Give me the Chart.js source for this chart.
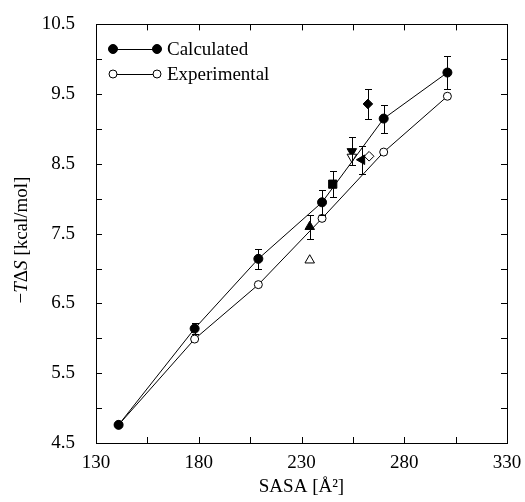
<!DOCTYPE html>
<html>
<head>
<meta charset="utf-8">
<script src="https://cdn.jsdelivr.net/npm/chart.js@4.4.0/dist/chart.umd.min.js"></script>
<style>
    body { margin: 0; background: #fff; }
    #wrap { width: 525px; height: 502px; position: relative; }
    .fontprobe { position: absolute; left: -999px; top: 0; font-family: "Liberation Serif"; font-size: 19px; }
</style>
</head>
<body>
<div id="wrap"><canvas id="sasa-chart" width="525" height="502"></canvas></div>
<span class="fontprobe">Calculated 0123456789 <i>TS</i></span>
<script>
// values
const sasa = [141, 178, 209, 240, 270, 301];
const calculated = [4.76, 6.14, 7.14, 7.95, 9.15, 9.81];
const calculatedErr = [0, 0.08, 0.14, 0.18, 0.2, 0.23];
const experimental = [4.76, 5.99, 6.77, 7.72, 8.67, 9.47];

// single mutants (filled = calculated, open = experimental)
const triUp = [{x: 234, y: 7.60}];
const triUpErr = [0.17];
const triUpOpen = [{x: 234, y: 7.12}];
const square = [{x: 245.2, y: 8.21}];
const squareErr = [0.19];
const triDown = [{x: 254.5, y: 8.68}];
const triDownErr = [0.2];
const triDownOpen = [{x: 254.5, y: 8.60}];
const triLeft = [{x: 259.4, y: 8.56}];
const triLeftErr = [0.2];
const diamond = [{x: 262.3, y: 9.36}];
const diamondErr = [0.21];
const diamondOpen = [{x: 262.9, y: 8.61}];

const xTicks = [130, 180, 230, 280, 330];
const yTicks = [4.5, 5.5, 6.5, 7.5, 8.5, 9.5, 10.5];

const serif = '"Liberation Serif", "Times New Roman", Times, serif';

function pts(xs, ys) {
    return xs.map((x, i) => ({x: x, y: ys[i]}));
}

const errorBars = {
    id: 'errorBars',
    afterDatasetsDraw(chart) {
        const ctx = chart.ctx;
        const xs = chart.scales.x, ys = chart.scales.y;
        ctx.save();
        ctx.strokeStyle = '#000';
        ctx.lineWidth = 1;
        chart.data.datasets.forEach(ds => {
            if (!ds.errors) return;
            ds.data.forEach((p, i) => {
                const e = ds.errors[i];
                if (!e) return;
                const px = Math.round(xs.getPixelForValue(p.x)) + 0.5;
                const top = Math.round(ys.getPixelForValue(p.y + e)) + 0.5;
                const bot = Math.round(ys.getPixelForValue(p.y - e)) + 0.5;
                ctx.beginPath();
                ctx.moveTo(px, top); ctx.lineTo(px, bot);
                ctx.moveTo(px - 3.5, top); ctx.lineTo(px + 3.5, top);
                ctx.moveTo(px - 3.5, bot); ctx.lineTo(px + 3.5, bot);
                ctx.stroke();
            });
        });
        ctx.restore();
    }
};

const frame = {
    id: 'frame',
    beforeDraw(chart) {
        const ctx = chart.ctx;
        ctx.save();
        ctx.fillStyle = '#fff';
        ctx.fillRect(0, 0, chart.width, chart.height);
        ctx.restore();
    },
    afterDraw(chart) {
        const ctx = chart.ctx;
        const a = chart.chartArea;
        const xs = chart.scales.x, ys = chart.scales.y;
        const len = 6;
        ctx.save();
        ctx.strokeStyle = '#000';
        ctx.lineWidth = 1;
        ctx.strokeRect(Math.round(a.left) + 0.5, Math.round(a.top) + 0.5,
            Math.round(a.right - a.left), Math.round(a.bottom - a.top));
        ctx.beginPath();
        xs.ticks.forEach(t => {
            if (t.value <= xs.min || t.value >= xs.max) return;
            const px = Math.round(xs.getPixelForValue(t.value)) + 0.5;
            ctx.moveTo(px, a.bottom); ctx.lineTo(px, a.bottom - len);
            ctx.moveTo(px, a.top); ctx.lineTo(px, a.top + len);
        });
        ys.ticks.forEach(t => {
            if (t.value <= ys.min || t.value >= ys.max) return;
            const py = Math.round(ys.getPixelForValue(t.value)) + 0.5;
            ctx.moveTo(a.left, py); ctx.lineTo(a.left + len, py);
            ctx.moveTo(a.right, py); ctx.lineTo(a.right - len, py);
        });
        ctx.stroke();

        // legend: marker - line - marker, then the label
        const rows = [chart.data.datasets[0], chart.data.datasets[1]];
        rows.forEach((ds, i) => {
            const y = 49 + i * 25;
            ctx.beginPath();
            ctx.moveTo(113, y + 0.5); ctx.lineTo(157, y + 0.5);
            ctx.stroke();
            [113, 157].forEach(x => {
                ctx.beginPath();
                ctx.arc(x, y, ds.pointRadius, 0, Math.PI * 2);
                ctx.fillStyle = ds.pointBackgroundColor;
                ctx.fill();
                ctx.stroke();
            });
            ctx.fillStyle = '#000';
            ctx.font = '19px ' + serif;
            ctx.textBaseline = 'middle';
            ctx.textAlign = 'left';
            ctx.fillText(ds.label, 167, y + 1);
        });

        // y title with italic T and S
        const parts = [['\u2212', ''], ['T', 'italic '], ['\u0394', ''], ['S', 'italic '], [' [kcal/mol]', '']];
        ctx.translate(22, 240);
        ctx.rotate(-Math.PI / 2);
        let total = 0;
        parts.forEach(p => { ctx.font = p[1] + '19px ' + serif; total += ctx.measureText(p[0]).width; });
        let cx = -total / 2;
        parts.forEach(p => {
            ctx.font = p[1] + '19px ' + serif;
            ctx.fillText(p[0], cx, 0);
            cx += ctx.measureText(p[0]).width;
        });
        ctx.restore();
    }
};

function marker(data, style, filled, radius, rotation, errors) {
    return {
        label: '',
        data: data,
        showLine: false,
        pointStyle: style,
        pointRotation: rotation,
        pointRadius: radius,
        pointHoverRadius: radius,
        pointBorderWidth: 1,
        pointBorderColor: '#000',
        pointBackgroundColor: filled ? '#000' : '#fff',
        errors: errors
    };
}

const chartData = {
    datasets: [
        {
            label: 'Calculated',
            data: pts(sasa, calculated),
            errors: calculatedErr,
            showLine: true,
            borderColor: '#000',
            borderWidth: 1,
            pointStyle: 'circle',
            pointRadius: 4.5,
            pointBorderWidth: 1,
            pointBorderColor: '#000',
            pointBackgroundColor: '#000',
            order: 1
        },
        {
            label: 'Experimental',
            data: pts(sasa, experimental),
            showLine: true,
            borderColor: '#000',
            borderWidth: 1,
            pointStyle: 'circle',
            pointRadius: 4,
            pointBorderWidth: 1,
            pointBorderColor: '#000',
            pointBackgroundColor: '#fff',
            order: 2
        },
        marker(triUp, 'triangle', true, 5.5, 0, triUpErr),
        marker(triUpOpen, 'triangle', false, 5.5, 0),
        marker(square, 'rect', true, 5.8, 0, squareErr),
        marker(triDownOpen, 'triangle', false, 5.5, 180),
        marker(triDown, 'triangle', true, 5.5, 180, triDownErr),
        marker(triLeft, 'triangle', true, 5.5, -90, triLeftErr),
        marker(diamond, 'rectRot', true, 4.8, 0, diamondErr),
        marker(diamondOpen, 'rectRot', false, 4.8, 0)
    ]
};

const chartOptions = {
    responsive: false,
    animation: false,
    events: [],
    layout: { padding: { top: 20, right: 18, left: 0, bottom: 0 } },
    plugins: {
        legend: { display: false },
        tooltip: { enabled: false }
    },
    scales: {
        x: {
            type: 'linear',
            min: 130,
            max: 330,
            grid: { display: false },
            border: { display: false },
            ticks: {
                stepSize: 25,
                autoSkip: false,
                maxRotation: 0,
                padding: 1,
                color: '#000',
                font: { family: serif, size: 19 },
                callback: v => xTicks.includes(v) ? String(v) : ''
            },
            title: {
                display: true,
                text: 'SASA [\u00c5\u00b2]',
                color: '#000',
                font: { family: serif, size: 19 },
                padding: { top: 4, bottom: 4 }
            },
            afterFit: scale => { scale.height = 59; }
        },
        y: {
            type: 'linear',
            min: 4.5,
            max: 10.5,
            grid: { display: false },
            border: { display: false },
            ticks: {
                stepSize: 0.5,
                autoSkip: false,
                padding: 13,
                color: '#000',
                font: { family: serif, size: 19 },
                callback: v => yTicks.some(t => Math.abs(t - v) < 1e-6) ? v.toFixed(1) : ''
            },
            afterFit: scale => { scale.width = 96; }
        }
    }
};

function makeChart() {
    new Chart(document.getElementById('sasa-chart'), {
        type: 'scatter',
        data: chartData,
        options: chartOptions,
        plugins: [frame, errorBars]
    });
}

Promise.all([
    document.fonts.load('19px "Liberation Serif"'),
    document.fonts.load('italic 19px "Liberation Serif"')
]).then(makeChart, makeChart);
</script>
</body>
</html>
